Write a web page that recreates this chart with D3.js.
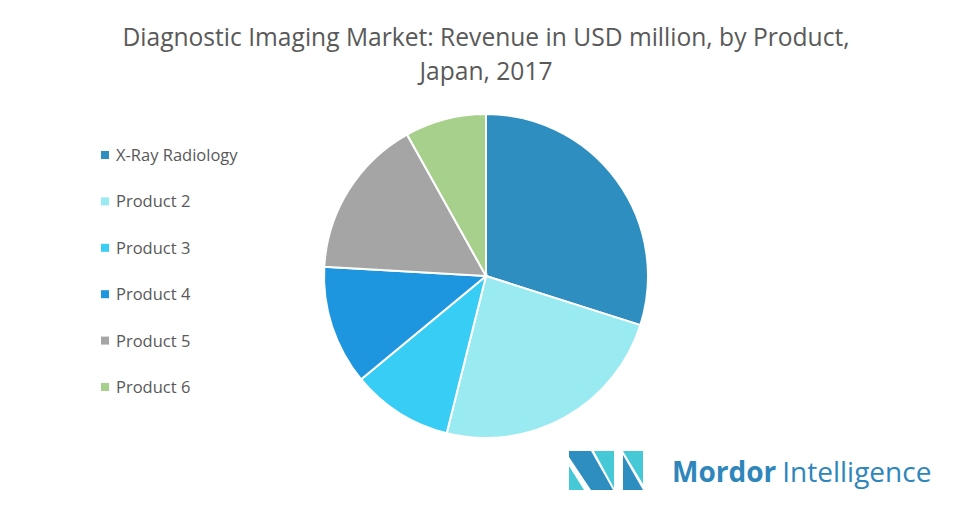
<!DOCTYPE html>
<html><head><meta charset="utf-8">
<script src="https://cdn.jsdelivr.net/npm/d3@7"></script>
<style>body{margin:0;background:#fff}svg{display:block}</style>
</head><body>
<svg id="chart" width="972" height="511"></svg>
<script>
const categories = ["X-Ray Radiology","Product 2","Product 3","Product 4","Product 5","Product 6"];
const values = [29.9, 24.0, 10.1, 11.9, 16.0, 8.1];
const colors = ["#2E8EC0","#9AEAF1","#38CDF5","#1E96DF","#A5A5A5","#A8D08D"];
const titleLines = ["Diagnostic Imaging Market: Revenue in USD million, by Product,","Japan, 2017"];

const svg = d3.select("#chart");
const font = "'Open Sans', 'Liberation Sans', sans-serif";

// title
svg.selectAll("text.title").data(titleLines).join("text")
  .attr("class","title")
  .attr("x",486).attr("y",(d,i)=>46+i*34)
  .attr("text-anchor","middle")
  .attr("font-family",font).attr("font-size",24.6)
  .attr("fill","#595959").text(d=>d);

// pie
const cx=486, cy=276, r=162;
const pie = d3.pie().sort(null).value(d=>d)(values);
const arc = d3.arc().innerRadius(0).outerRadius(r);
svg.append("g").attr("transform",`translate(${cx},${cy})`)
  .selectAll("path").data(pie).join("path")
  .attr("d",arc).attr("fill",(d,i)=>colors[i])
  .attr("stroke","#fff").attr("stroke-width",2);

// legend
const ly = d3.scalePoint().domain(categories).range([155,387]);
const lg = svg.append("g").selectAll("g").data(categories).join("g")
  .attr("transform",d=>`translate(101,${ly(d)})`);
lg.append("rect").attr("x",0).attr("y",-4).attr("width",8).attr("height",8)
  .attr("fill",(d,i)=>colors[i]);
lg.append("text").attr("x",15).attr("y",6)
  .attr("font-family",font).attr("font-size",16.5).attr("fill","#595959").text(d=>d);

// logo
const logo = svg.append("g").attr("transform","translate(569,451)");
const polys = [
  {p:[[0,0],[22,0],[44,39],[22,39],[0,6]], c:"#2E8EC0"},
  {p:[[0,15],[0,39],[15,39]], c:"#46C9D6"},
  {p:[[25,0],[45,0],[45,37]], c:"#46C9D6"},
  {p:[[54,0],[74,0],[74,33]], c:"#46C9D6"},
  {p:[[54,4],[74,39],[54,39]], c:"#2E8EC0"}
];
logo.selectAll("polygon").data(polys).join("polygon")
  .attr("points",d=>d.p.map(q=>q.join(",")).join(" "))
  .attr("fill",d=>d.c);
const lt = svg.append("text").attr("x",672).attr("y",482)
  .attr("font-family",font).attr("font-size",28).attr("fill","#2E86BB");
lt.append("tspan").attr("font-weight","bold").text("Mordor");
lt.append("tspan").attr("dx",6).text("Intelligence");
</script>
</body></html>
